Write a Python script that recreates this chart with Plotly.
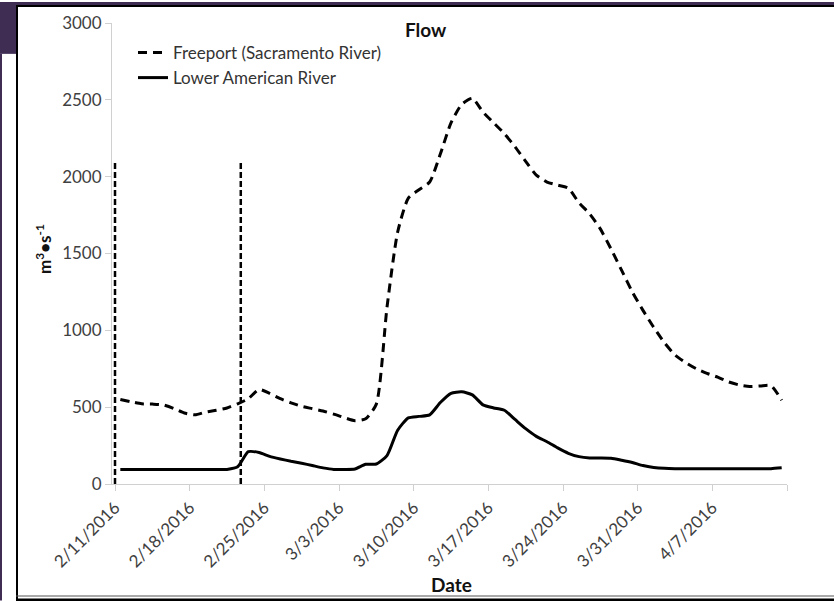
import plotly.graph_objects as go
import pandas as pd

# ---------------- data ----------------
start_date = "2016-02-11"
n_days = 63
dates = pd.date_range(start_date, periods=n_days, freq="D")

freeport = [550, 535, 522, 520, 515, 492, 462, 450, 468, 480,
            495, 522, 555, 615, 590, 555, 528, 505, 490, 475,
            455, 432, 412, 425, 520, 1150, 1640, 1860, 1915, 1965,
            2147, 2350, 2470, 2510, 2420, 2350, 2280, 2195, 2100, 2010,
            1965, 1945, 1925, 1830, 1758, 1660, 1530, 1390, 1250, 1130,
            1020, 920, 840, 790, 750, 720, 695, 665, 645, 635,
            638, 640, 545]

lower_american = [95, 95, 95, 95, 95, 95, 95, 95, 95, 95,
                  95, 112, 210, 205, 180, 163, 148, 135, 120, 105,
                  95, 95, 98, 128, 130, 185, 350, 430, 440, 450,
                  530, 590, 600, 580, 515, 495, 480, 420, 360, 310,
                  275, 235, 200, 178, 170, 170, 168, 155, 140, 120,
                  108, 102, 100, 100, 100, 100, 100, 100, 100, 100,
                  100, 100, 105]

event_dates = ["2016-02-11 00:00", "2016-02-22 19:00"]
event_top = 2100

tick_dates = ["2016-02-11", "2016-02-18", "2016-02-25", "2016-03-03", "2016-03-10",
              "2016-03-17", "2016-03-24", "2016-03-31", "2016-04-07", "2016-04-14"]
tick_labels = ["2/11/2016", "2/18/2016", "2/25/2016", "3/3/2016", "3/10/2016",
               "3/17/2016", "3/24/2016", "3/31/2016", "4/7/2016", ""]

# ---------------- figure ----------------
W, H = 834, 601
L, R, T, B = 112, 787, 21, 484
FONT = "Lato"
PURPLE = "#3f2d53"

x_mid = dates + pd.Timedelta(hours=12)

fig = go.Figure()
fig.add_trace(go.Scatter(
    x=x_mid, y=freeport, mode="lines", name="Freeport (Sacramento River)",
    line=dict(color="black", width=3, dash="9px,6px", shape="spline", smoothing=0.6)))
fig.add_trace(go.Scatter(
    x=x_mid, y=lower_american, mode="lines", name="Lower American River",
    line=dict(color="black", width=3, shape="spline", smoothing=0.6)))
for d in event_dates:
    fig.add_trace(go.Scatter(
        x=[d, d], y=[0, event_top], mode="lines", showlegend=False,
        line=dict(color="black", width=2.5, dash="6px,3px")))


def px2x(px):
    return (px - L) / (R - L)


def px2y(py):
    return (B - py) / (B - T)


shapes = []


def rect(x0, y0, x1, y1, color):
    shapes.append(dict(type="rect", xref="paper", yref="paper",
                       x0=px2x(x0), x1=px2x(x1), y0=px2y(y1), y1=px2y(y0),
                       fillcolor=color, line=dict(width=0), layer="above"))


# clean right edge
rect(812, 0, W + 2, H + 2, "white")
# slide background pieces
rect(0, 0, W + 2, 3, PURPLE)
rect(0, 0, 16, 52, PURPLE)
rect(0, 52, 2, H, PURPLE)
# black frame
rect(16, 3, W + 2, 5, "black")
rect(16, 3, 18, 600, "black")
rect(16, 596, W + 2, 597, "#555555")
rect(16, 599, W + 2, H + 2, "black")

fig.update_layout(
    width=W, height=H,
    margin=dict(l=L, r=W - R, t=T, b=H - B),
    paper_bgcolor="white", plot_bgcolor="white",
    font=dict(family=FONT, size=17, color="#404040"),
    shapes=shapes,
    showlegend=True,
    legend=dict(x=px2x(133), y=px2y(33), xanchor="left", yanchor="top",
                bgcolor="rgba(0,0,0,0)", font=dict(size=17, color="#333333"),
                tracegroupgap=0, itemwidth=30),
    annotations=[
        dict(text="<b>Flow</b>", xref="paper", yref="paper", x=px2x(426), y=px2y(28),
             showarrow=False, font=dict(size=19, color="#111111"), xanchor="center", yanchor="middle"),
        dict(text="<b>Date</b>", xref="paper", yref="paper", x=px2x(451), y=px2y(585),
             showarrow=False, font=dict(size=19, color="#111111"), xanchor="center", yanchor="middle"),
        dict(text="<b>m<sup>3</sup>•s<sup>-1</sup></b>", xref="paper", yref="paper",
             x=px2x(43), y=px2y(248), textangle=-90,
             showarrow=False, font=dict(size=17, color="#111111"), xanchor="center", yanchor="middle"),
    ],
)

fig.update_xaxes(
    type="date", range=["2016-02-10 17:15", "2016-04-14"],
    tickmode="array", tickvals=tick_dates, ticktext=tick_labels,
    tickangle=-45, ticks="outside", ticklen=6, tickcolor="#d0d0d0",
    showline=True, linecolor="#d0d0d0", linewidth=1, showgrid=False, zeroline=False,
    tickfont=dict(size=17, color="#404040"))
fig.update_yaxes(
    range=[0, 3000], dtick=500, ticks="outside", ticklen=6, tickcolor="#d0d0d0",
    showline=True, linecolor="#d0d0d0", linewidth=1, showgrid=False, zeroline=False,
    tickfont=dict(size=17, color="#404040"))

post = (
    "document.documentElement.style.overflow='hidden';"
    "document.body.style.margin='0';"
    "document.body.style.overflow='hidden';"
)
fig.write_html("out.html", config={"displayModeBar": False}, post_script=post)
